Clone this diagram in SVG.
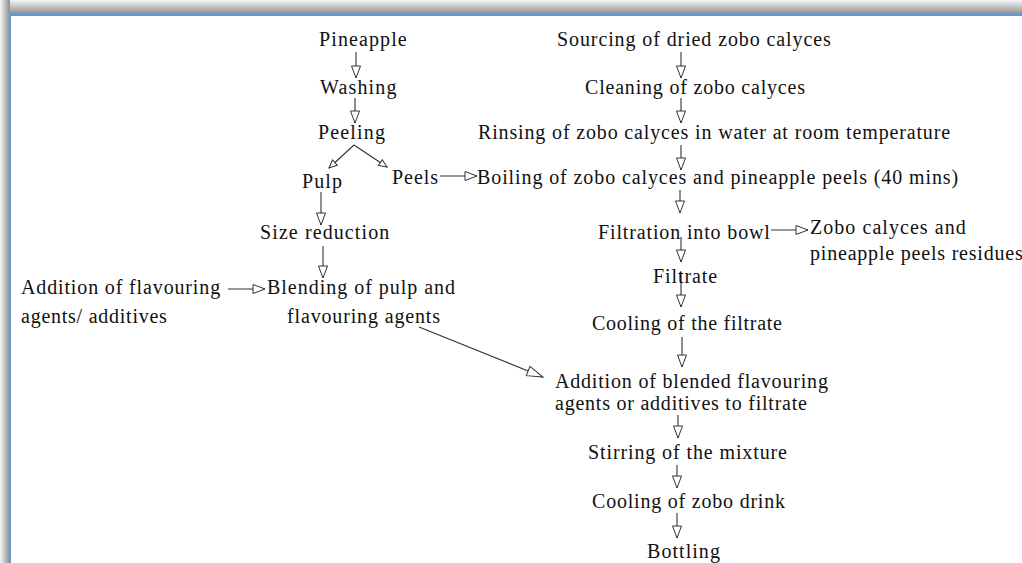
<svg xmlns="http://www.w3.org/2000/svg" width="1022" height="563" viewBox="0 0 1022 563">
<defs>
<linearGradient id="gTop" x1="0" y1="0" x2="0" y2="1">
<stop offset="0" stop-color="#f6f6f6"/>
<stop offset="1" stop-color="#8e8e8e"/>
</linearGradient>
<linearGradient id="gLeft" x1="0" y1="0" x2="1" y2="0">
<stop offset="0" stop-color="#f6f6f6"/>
<stop offset="1" stop-color="#8e8e8e"/>
</linearGradient>
<marker id="ah" viewBox="0 0 14 11" refX="13" refY="5.5" markerWidth="14" markerHeight="11" markerUnits="userSpaceOnUse" orient="auto">
<path d="M1,1 L13,5.5 L1,10 Z" fill="#fff" stroke="#333" stroke-width="1"/>
</marker>
<marker id="ahs" viewBox="0 0 10 9" refX="9" refY="4.5" markerWidth="10" markerHeight="9" markerUnits="userSpaceOnUse" orient="auto">
<path d="M1,1 L9,4.5 L1,8 Z" fill="#fff" stroke="#333" stroke-width="1"/>
</marker>
<marker id="ahl" viewBox="0 0 18 12" refX="17" refY="6" markerWidth="18" markerHeight="12" markerUnits="userSpaceOnUse" orient="auto">
<path d="M1,1 L17,6 L1,11 Z" fill="#fff" stroke="#333" stroke-width="1"/>
</marker>
</defs>
<style>
.c line{stroke:#333;stroke-width:1.1;fill:none}
.L{font-family:'Liberation Serif',serif}
</style>
<rect x="0" y="0" width="1022" height="563" fill="#fff"/>
<rect x="0" y="0" width="1022" height="14" fill="url(#gTop)"/>
<rect x="0" y="0" width="10" height="563" fill="url(#gLeft)"/>
<rect x="9" y="14" width="1013" height="2" fill="#5b9bd5"/>
<rect x="9" y="14" width="2" height="549" fill="#5b9bd5"/>

<g class="c" id="connectors">
<line x1="356" y1="52" x2="356" y2="78" marker-end="url(#ah)"/>
<line x1="355" y1="98" x2="355" y2="123" marker-end="url(#ah)"/>
<line x1="354" y1="145" x2="329" y2="168" marker-end="url(#ahs)"/>
<line x1="354" y1="145" x2="387" y2="167" marker-end="url(#ahs)"/>
<line x1="440" y1="176" x2="477" y2="176" marker-end="url(#ah)"/>
<line x1="321" y1="192" x2="321" y2="225" marker-end="url(#ah)"/>
<line x1="323" y1="246" x2="323" y2="278" marker-end="url(#ah)"/>
<line x1="228" y1="289" x2="265" y2="289" marker-end="url(#ah)"/>
<line x1="419" y1="327" x2="543" y2="377" marker-end="url(#ahl)"/>
<line x1="681" y1="52" x2="681" y2="78" marker-end="url(#ah)"/>
<line x1="681" y1="98" x2="681" y2="123" marker-end="url(#ah)"/>
<line x1="681" y1="145" x2="681" y2="170" marker-end="url(#ah)"/>
<line x1="680" y1="190" x2="680" y2="213" marker-end="url(#ah)"/>
<line x1="771" y1="230" x2="808" y2="230" marker-end="url(#ah)"/>
<line x1="681" y1="237" x2="681" y2="262" marker-end="url(#ah)"/>
<line x1="681" y1="272" x2="681" y2="307" marker-end="url(#ah)"/>
<line x1="682" y1="337" x2="682" y2="367" marker-end="url(#ah)"/>
<line x1="678" y1="415" x2="678" y2="438" marker-end="url(#ah)"/>
<line x1="677" y1="465" x2="677" y2="488" marker-end="url(#ah)"/>
<line x1="677" y1="513" x2="677" y2="538" marker-end="url(#ah)"/>
</g>

<g class="L" font-size="20" fill="#111">
<g id="n-pineapple"><text x="319" y="46" letter-spacing="1.1">Pineapple</text></g>
<g id="n-washing"><text x="320" y="94" letter-spacing="1.15">Washing</text></g>
<g id="n-peeling"><text x="318" y="139" letter-spacing="1.15">Peeling</text></g>
<g id="n-pulp"><text x="302" y="188" letter-spacing="1.1">Pulp</text></g>
<g id="n-peels"><text x="392" y="184" letter-spacing="0.95">Peels</text></g>
<g id="n-size"><text x="260" y="239" letter-spacing="1.1">Size reduction</text></g>
<g id="n-addflav"><text x="21" y="294" letter-spacing="0.86">Addition of flavouring</text><text x="21" y="323" letter-spacing="0.75">agents/ additives</text></g>
<g id="n-blend"><text x="267" y="294" letter-spacing="0.98">Blending of pulp and</text><text x="287" y="323" letter-spacing="0.85">flavouring agents</text></g>
<g id="n-sourcing"><text x="557" y="46" letter-spacing="0.9">Sourcing of dried zobo calyces</text></g>
<g id="n-cleaning"><text x="585" y="94" letter-spacing="0.8">Cleaning of zobo calyces</text></g>
<g id="n-rinsing"><text x="478" y="139" letter-spacing="0.85">Rinsing of zobo calyces in water at room temperature</text></g>
<g id="n-boiling"><text x="477" y="184" letter-spacing="0.9">Boiling of zobo calyces and pineapple peels (40 mins)</text></g>
<g id="n-filtration"><text x="598" y="239" letter-spacing="0.86">Filtration into bowl</text></g>
<g id="n-residues"><text x="810" y="234" letter-spacing="1.05">Zobo calyces and</text><text x="810" y="260" letter-spacing="0.8">pineapple peels residues</text></g>
<g id="n-filtrate"><text x="653" y="283" letter-spacing="0.9">Filtrate</text></g>
<g id="n-cooling1"><text x="592" y="330" letter-spacing="0.73">Cooling of the filtrate</text></g>
<g id="n-addblend"><text x="555" y="388" letter-spacing="0.81">Addition of blended flavouring</text><text x="555" y="410" letter-spacing="0.77">agents or additives to filtrate</text></g>
<g id="n-stirring"><text x="588" y="459" letter-spacing="0.89">Stirring of the mixture</text></g>
<g id="n-cooling2"><text x="592" y="508" letter-spacing="0.79">Cooling of zobo drink</text></g>
<g id="n-bottling"><text x="647" y="558" letter-spacing="1.05">Bottling</text></g>
</g>
</svg>
